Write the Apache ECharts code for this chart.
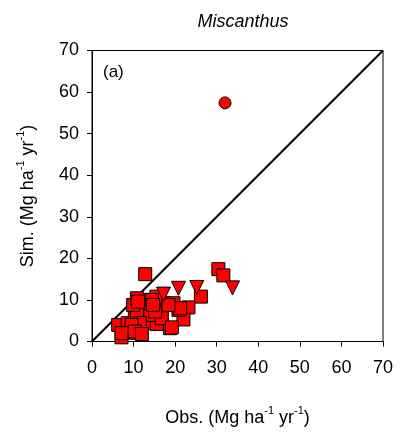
<!DOCTYPE html>
<html><head><meta charset="utf-8">
<script src="https://cdn.jsdelivr.net/npm/echarts@6/dist/echarts.min.js"></script>
<style>html,body{margin:0;padding:0;background:#fff}#c{width:400px;height:437px}</style>
</head><body><div id="c"></div>
<script>
const axisTicks = [0, 10, 20, 30, 40, 50, 60, 70];
const squareObs = [12.8, 30.4, 31.6, 26.2, 23.2, 22.0, 18.8, 10.3, 7.1, 6.3, 8.6, 13.5, 15.6, 14.0, 10.3, 11.5, 17.2, 19.6, 20.8, 16.8, 19.2, 15.2, 21.2, 10.8, 12.3, 14.8, 9.9, 11.5, 9.5, 7.1, 10.3, 12.0, 10.8, 15.5, 11.1, 14.4, 14.7, 18.4];
const squareSim = [16.2, 17.4, 15.9, 10.8, 8.2, 5.3, 3.2, 2.1, 1.0, 4.0, 4.4, 4.4, 4.2, 6.4, 5.6, 9.2, 9.2, 9.2, 7.6, 5.6, 3.4, 7.2, 8.0, 6.8, 10.0, 9.6, 8.8, 4.4, 4.0, 2.0, 2.4, 1.8, 10.4, 10.8, 9.6, 10.0, 8.8, 8.8];
const triObs = [17.2, 20.8, 25.2, 33.8];
const triSim = [11.4, 12.8, 13.0, 12.9];
const circObs = [32.0];
const circSim = [57.4];
const oneToOne = [0, 70];

const zip = (a, b) => a.map((v, i) => [v, b[i]]);
const chart = echarts.init(document.getElementById('c'));
const FF = 'Liberation Sans, Arial, sans-serif';
const txt = {fontFamily: FF, fontSize: 18, color: '#000'};
const rich = {
  a: {fontFamily: FF, fontSize: 18, color: '#000', lineHeight: 22, verticalAlign: 'bottom'},
  s: {fontFamily: FF, fontSize: 11, color: '#000', lineHeight: 22, verticalAlign: 'top'}
};
const nameStr = (p) => '{a|' + p + ' (Mg ha}{s|-1}{a| yr}{s|-1}{a|)}';
const markerStyle = {color: '#ff0000', borderColor: '#000', borderWidth: 1, opacity: 1};
chart.setOption({
  animation: false,
  title: [
    {text: 'Miscanthus', left: 238, textAlign: 'center', top: 8,
     textStyle: {fontFamily: FF, fontSize: 18, fontStyle: 'italic', fontWeight: 'normal', color: '#000'}},
    {text: '(a)', left: 98, top: 59,
     textStyle: {fontFamily: FF, fontSize: 17, fontWeight: 'normal', color: '#000'}}
  ],
  grid: {left: 92, right: 17, top: 50.5, bottom: 95.5, show: true, borderColor: '#000', borderWidth: 1, backgroundColor: 'transparent'},
  xAxis: {
    type: 'value', min: axisTicks[0], max: axisTicks[axisTicks.length - 1], interval: 10,
    name: nameStr('Obs.'), nameLocation: 'middle', nameGap: 64,
    nameTextStyle: {rich: rich},
    axisLine: {show: true, lineStyle: {color: '#000', width: 1}},
    axisTick: {show: true, inside: false, length: 5, lineStyle: {color: '#000'}},
    axisLabel: Object.assign({margin: 18}, txt),
    splitLine: {show: false}
  },
  yAxis: {
    type: 'value', min: axisTicks[0], max: axisTicks[axisTicks.length - 1], interval: 10,
    name: nameStr('Sim.'), nameLocation: 'middle', nameGap: 55, nameRotate: 90,
    nameTextStyle: {rich: rich},
    axisLine: {show: true, lineStyle: {color: '#000', width: 1}},
    axisTick: {show: true, inside: false, length: 5, lineStyle: {color: '#000'}},
    axisLabel: Object.assign({margin: 13}, txt),
    splitLine: {show: false}
  },
  series: [
    {type: 'line', data: zip(oneToOne, oneToOne), showSymbol: false, symbol: 'none',
     lineStyle: {color: '#000', width: 2}, z: 1},
    {type: 'scatter', data: zip(squareObs, squareSim), symbol: 'rect', symbolSize: 13, itemStyle: markerStyle, z: 3},
    {type: 'scatter', data: zip(triObs, triSim), symbol: 'triangle', symbolRotate: 180, symbolSize: 14, itemStyle: markerStyle, z: 4},
    {type: 'scatter', data: zip(circObs, circSim), symbol: 'circle', symbolSize: 12, itemStyle: markerStyle, z: 4}
  ]
});
</script></body></html>
